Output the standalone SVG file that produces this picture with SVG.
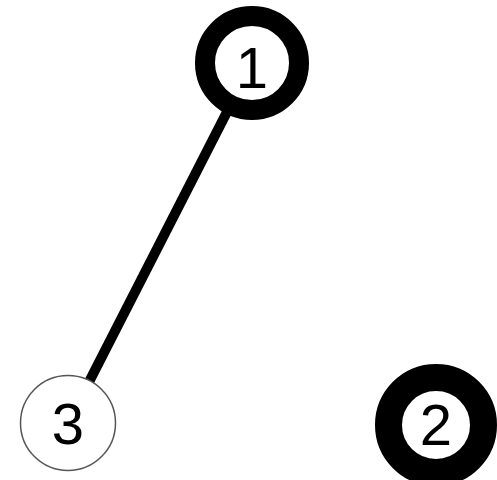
<svg xmlns="http://www.w3.org/2000/svg" width="497" height="480" viewBox="0 0 497 480">
<style>
.lbl{font-family:"Liberation Sans",Arial,sans-serif;font-size:58px;fill:#000;text-anchor:middle}
.edge{stroke:#000;stroke-width:10;fill:none}
</style>
<rect width="497" height="480" fill="#fff"/>
<g id="edges">
<line class="edge" x1="252" y1="63" x2="68" y2="423"/>
</g>
<g id="node1">
<circle cx="252" cy="63" r="47" fill="#fff" stroke="#000" stroke-width="20"/>
<text class="lbl" x="252" y="88">1</text>
</g>
<g id="node3">
<circle cx="68" cy="423" r="47.5" fill="#fff" stroke="#555" stroke-width="1.5"/>
<text class="lbl" x="68" y="444">3</text>
</g>
<g id="node2">
<circle cx="436" cy="425" r="47.5" fill="#fff" stroke="#000" stroke-width="27"/>
<text class="lbl" x="436" y="445">2</text>
</g>
</svg>
